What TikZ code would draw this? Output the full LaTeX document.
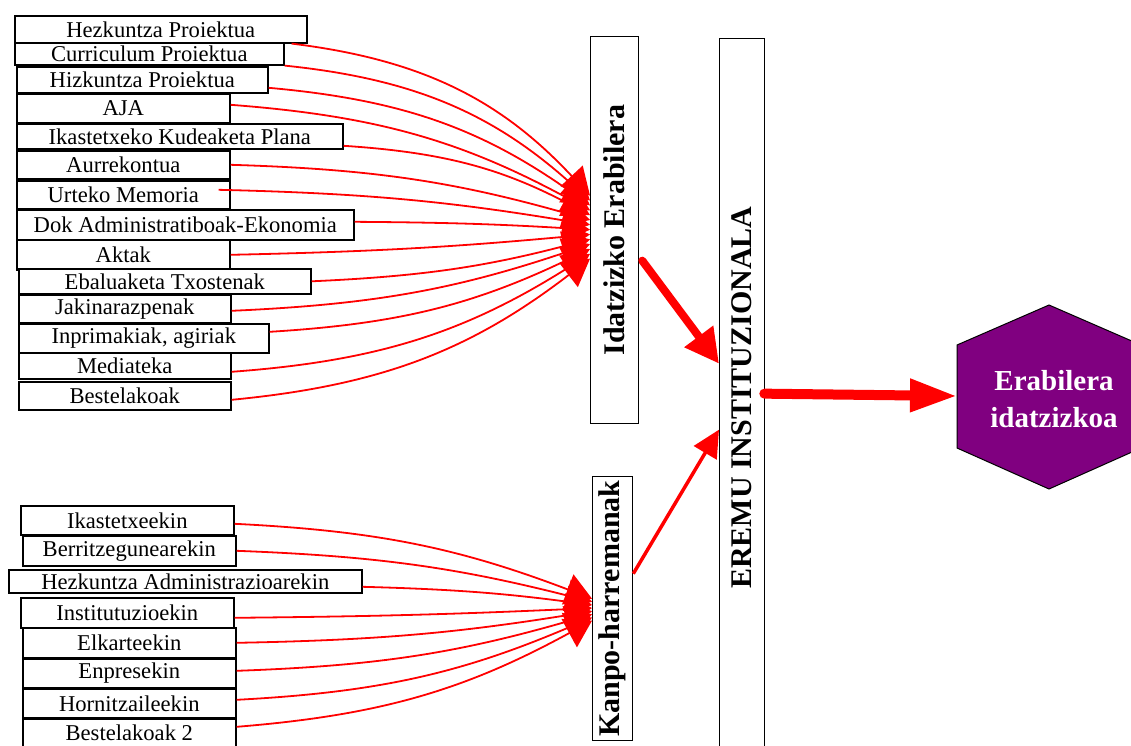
\documentclass[tikz,border=0pt]{standalone}
\usepackage{fontspec}
\setmainfont{Liberation Serif}
\usetikzlibrary{arrows.meta}
\definecolor{hexpurple}{HTML}{800080}
\begin{document}
\begin{tikzpicture}[x=1pt,y=1pt,
  docbox/.style={draw, line width=1.6pt, fill=white, inner sep=0pt, anchor=north west,
    font=\fontsize{22.6}{24}\selectfont},
  tallbox/.style={draw, line width=1.3pt, fill=white, inner sep=0pt, anchor=north west},
  tallText/.style={rotate=90, inner sep=0pt, font=\fontsize{30}{32}\selectfont\bfseries},
  feed/.style={red, line width=1.8pt, -{Triangle[length=27pt,width=30pt]}},
  feedb/.style={red, line width=1.8pt, -{Triangle[length=26pt,width=32pt]}},
  hextext/.style={text=white, align=center, inner sep=0pt,
    font=\fontsize{29}{37}\selectfont\bfseries}
]
\useasboundingbox (0,0) rectangle (1131,-745);

% documents feeding written usage
\node[docbox, minimum width=292, minimum height=27] (hez) at (14,-15) {Hezkuntza Proiektua};
\node[docbox, minimum width=269, minimum height=22] (cur) at (14,-42) {Curriculum Proiektua};
\node[docbox, minimum width=251, minimum height=26] (hiz) at (16,-66) {Hizkuntza Proiektua};
\node[docbox, minimum width=213, minimum height=29] (aja) at (16,-93) {AJA};
\node[docbox, minimum width=326, minimum height=25] (ikp) at (16,-123) {Ikastetxeko Kudeaketa Plana};
\node[docbox, minimum width=213, minimum height=28] (aur) at (16,-150) {Aurrekontua};
\node[docbox, minimum width=213, minimum height=28] (urt) at (16,-180) {Urteko Memoria};
\node[docbox, minimum width=337, minimum height=30] (dok) at (16,-209) {Dok Administratiboak-Ekonomia};
\node[docbox, minimum width=213, minimum height=30] (akt) at (16,-239) {Aktak};
\node[docbox, minimum width=292, minimum height=25] (eba) at (18,-268) {Ebaluaketa Txostenak};
\node[docbox, minimum width=212, minimum height=28] (jak) at (18,-294) {Jakinarazpenak};
\node[docbox, minimum width=250, minimum height=29] (inp) at (18,-323) {Inprimakiak, agiriak};
\node[docbox, minimum width=212, minimum height=26] (med) at (18,-352) {Mediateka};
\node[docbox, minimum width=212, minimum height=28] (bes) at (18,-381) {Bestelakoak};

% external relations
\node[docbox, minimum width=213, minimum height=29] (ik)  at (20,-505) {Ikastetxeekin};
\node[docbox, minimum width=213, minimum height=30] (ber) at (22,-535) {Berritzegunearekin};
\node[docbox, minimum width=353, minimum height=23] (hza) at (8,-569) {Hezkuntza Administrazioarekin};
\node[docbox, minimum width=213, minimum height=30] (ins) at (20,-597) {Institutuzioekin};
\node[docbox, minimum width=213, minimum height=30] (elk) at (22,-627) {Elkarteekin};
\node[docbox, minimum width=213, minimum height=29] (enp) at (22,-658) {Enpresekin};
\node[docbox, minimum width=213, minimum height=29] (hor) at (22,-688) {Hornitzaileekin};
\node[docbox, minimum width=213, minimum height=28] (be2) at (22,-718) {Bestelakoak 2};

% tall collector boxes
\node[tallbox, minimum width=48, minimum height=387] (ide) at (590,-36) {};
\node[tallText] (idet) at (ide.center) {Idatzizko Erabilera};
\node[tallbox, minimum width=45, minimum height=718] (ere) at (719,-38) {};
\node[tallText] (eret) at (ere.center) {EREMU INSTITUZIONALA};
\node[tallbox, minimum width=40, minimum height=264] (kan) at (592,-476) {};
\node[tallText] (kant) at (kan.center) {Kanpo-harremanak};

% result hexagon
\draw[fill=hexpurple, line width=1pt] (957,-345) -- (1049,-305) -- (1141,-345)
  -- (1141,-448) -- (1049,-489) -- (957,-448) -- cycle;
\coordinate (hexw) at (957,-396);
\node[hextext] (hex) at (1054,-399) {Erabilera\\idatzizkoa};

% connectors into "Idatzizko Erabilera"
\draw[feed] ([xshift=-16pt]hez.south east) to[bend left=20] ([yshift=34.5pt]ide.west);
\draw[feed] (cur.south east) to[bend left=18] ([yshift=29.6pt]ide.west);
\draw[feed] ([yshift=-8pt]hiz.east) to[bend left=15] ([yshift=24.8pt]ide.west);
\draw[feed] ([yshift=3.5pt]aja.east) to[bend left=12] ([yshift=19.9pt]ide.west);
\draw[feed] ([yshift=-9.5pt]ikp.east) to[bend left=12] ([yshift=15.1pt]ide.west);
\draw[feed] (aur.east) to[bend left=7] ([yshift=10.2pt]ide.west);
\draw[feed] ([xshift=-12pt,yshift=5pt]urt.east) to[bend left=4] ([yshift=5.4pt]ide.west);
\draw[feed] ([yshift=3pt]dok.east) to[bend left=1.5] ([yshift=0.5pt]ide.west);
\draw[feed] (akt.east) to[bend right=2] ([yshift=-4.3pt]ide.west);
\draw[feed] (eba.east) to[bend right=6] ([yshift=-9.2pt]ide.west);
\draw[feed] ([yshift=-2pt]jak.east) to[bend right=8] ([yshift=-14pt]ide.west);
\draw[feed] ([yshift=6.5pt]inp.east) to[bend right=11] ([yshift=-18.9pt]ide.west);
\draw[feed] ([yshift=-6pt]med.east) to[bend right=14] ([yshift=-23.7pt]ide.west);
\draw[feed] ([yshift=-4pt]bes.east) to[bend right=16] ([yshift=-28.5pt]ide.west);

% connectors into "Kanpo-harremanak"
\draw[feedb] ([yshift=-3.5pt]ik.east) to[bend left=9] ([yshift=10pt]kan.west);
\draw[feedb] (ber.east) to[bend left=6] ([yshift=6.9pt]kan.west);
\draw[feedb] ([yshift=-5.5pt]hza.east) to[bend left=3] ([yshift=3.7pt]kan.west);
\draw[feedb] ([yshift=-5pt]ins.east) to[bend right=1] ([yshift=0.6pt]kan.west);
\draw[feedb] (elk.east) to[bend right=4] ([yshift=-2.6pt]kan.west);
\draw[feedb] ([yshift=2.5pt]enp.east) to[bend right=7] ([yshift=-5.7pt]kan.west);
\draw[feedb] ([yshift=3.5pt]hor.east) to[bend right=10] ([yshift=-8.9pt]kan.west);
\draw[feedb] ([yshift=6pt]be2.east) to[bend right=12] ([yshift=-12pt]kan.west);

% main flow
\draw[red, line width=8pt, line cap=round, -{Triangle[length=34pt,width=34pt]}]
  ([xshift=3pt,yshift=-30.5pt]ide.east) -- ([yshift=34pt]ere.west);
\draw[red, line width=3.5pt, -{Triangle[length=27pt,width=26pt]}]
  ([yshift=35pt]kan.east) -- ([yshift=-32pt]ere.west);
\draw[red, line width=10pt, line cap=round, -{Triangle[length=47pt,width=31pt]}]
  ([xshift=-1pt,yshift=4pt]ere.east) -- (hexw);
\end{tikzpicture}
\end{document}
